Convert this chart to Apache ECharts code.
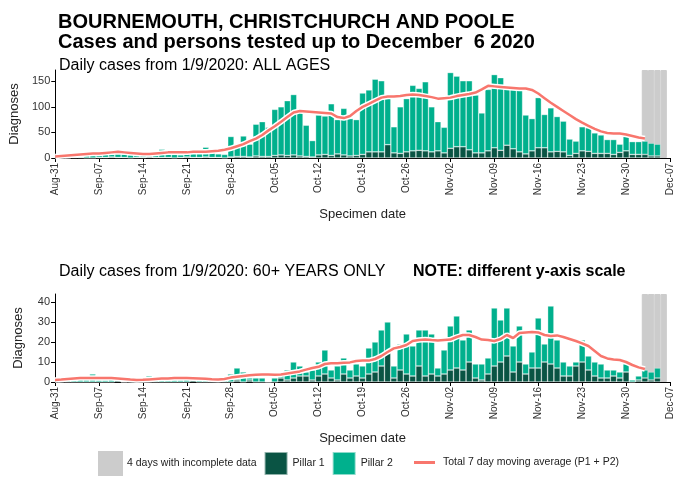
<!DOCTYPE html>
<html>
<head>
<meta charset="utf-8" />
<title>BCP cases</title>
<script src="https://cdn.jsdelivr.net/npm/echarts@6/dist/echarts.min.js"></script>
<style>
  body { margin: 0; background: #fff; }
  #chart { width: 675px; height: 485px; }
</style>
</head>
<body>
<div id="chart"></div>
<script>
// specimen dates, Aug-31 .. Dec-07
var days = ['Aug-31',
  'Sep-01','Sep-02','Sep-03','Sep-04','Sep-05','Sep-06','Sep-07','Sep-08','Sep-09','Sep-10',
  'Sep-11','Sep-12','Sep-13','Sep-14','Sep-15','Sep-16','Sep-17','Sep-18','Sep-19','Sep-20',
  'Sep-21','Sep-22','Sep-23','Sep-24','Sep-25','Sep-26','Sep-27','Sep-28','Sep-29','Sep-30',
  'Oct-01','Oct-02','Oct-03','Oct-04','Oct-05','Oct-06','Oct-07','Oct-08','Oct-09','Oct-10',
  'Oct-11','Oct-12','Oct-13','Oct-14','Oct-15','Oct-16','Oct-17','Oct-18','Oct-19','Oct-20',
  'Oct-21','Oct-22','Oct-23','Oct-24','Oct-25','Oct-26','Oct-27','Oct-28','Oct-29','Oct-30','Oct-31',
  'Nov-01','Nov-02','Nov-03','Nov-04','Nov-05','Nov-06','Nov-07','Nov-08','Nov-09','Nov-10',
  'Nov-11','Nov-12','Nov-13','Nov-14','Nov-15','Nov-16','Nov-17','Nov-18','Nov-19','Nov-20',
  'Nov-21','Nov-22','Nov-23','Nov-24','Nov-25','Nov-26','Nov-27','Nov-28','Nov-29','Nov-30',
  'Dec-01','Dec-02','Dec-03','Dec-04','Dec-05','Dec-06','Dec-07'];
var incompleteDays = ['Dec-03', 'Dec-04', 'Dec-05', 'Dec-06'];

// all ages, Sep-01 .. Dec-06
var allP1 = [1,0,1,1,0,0,1,1,2,1,1,0,1,1,2,1,1,1,0,1,2,1,1,2,1,1,0,
  2,3,3,2,4,3,3,5,6,5,6,4,3,2,6,7,5,8,6,4,5,
  7,12,12,12,26,10,9,12,14,15,14,12,14,10,
  19,22,22,16,10,10,14,20,15,25,18,12,8,14,20,20,12,13,12,5,9,14,13,9,9,9,7,11,14,7,7,7,4,4,null];
var allP2 = [2,4,3,5,5,7,5,7,5,8,7,6,4,6,6,8,16,15,7,5,6,8,9,19,10,7,7,
  40,19,40,25,62,68,57,90,94,107,118,86,61,32,78,75,101,67,91,73,70,
  120,121,142,139,92,51,91,104,128,121,135,88,57,50,
  148,138,129,135,113,78,120,143,142,111,118,121,76,63,98,65,86,68,60,32,24,47,46,40,36,27,29,16,28,25,25,26,25,23,null];
// 7 day moving average, Aug-31 .. Dec-03
var allAvg = [3,4,5,6,7,8,9,9,10,11,12,11,10,9,8,8,9,10,11,11,11,11,12,
  12,12,13,14,16,19,23,27,33,38,45,54,62,71,80,89,92,91,90,89,88,87,80,78,82,
  92,100,106,112,118,120,120,121,123,124,123,121,119,116,117,118,121,123,125,128,
  134,141,140,139,138,137,136,136,133,126,117,108,100,92,84,76,69,63,57,52,49,48,48,46,43,40,38];

// 60+ years, Sep-01 .. Dec-06
var oldP1 = [0,0,0,0,0,0,0,0,0,1,0,0,0,0,0,0,0,0,0,0,0,1,0,0,0,0,0,
  0,1,0,1,0,0,0,0,2,1,2,3,3,1,3,4,2,1,4,2,3,2,4,5,8,15,2,6,4,3,8,3,4,3,4,
  6,7,6,10,2,1,4,8,10,13,5,10,4,7,7,10,9,7,3,3,8,10,6,3,2,2,3,2,5,0,1,2,1,2];
var oldP2 = [1,1,2,3,2,4,1,1,2,0,0,1,1,2,3,1,1,2,1,1,2,1,1,2,1,1,1,
  4,6,5,1,2,2,0,2,3,5,8,5,2,5,7,12,4,7,8,4,6,6,13,15,18,15,6,13,20,15,18,23,20,4,12,
  22,26,15,16,7,8,8,29,21,24,13,18,5,8,25,9,29,14,7,5,2,11,7,7,7,4,3,3,4,1,2,4,4,5];
var oldAvg = [1,1.2,1.5,1.8,2,2,2,2,2,2,1.8,1.5,1.2,1,1.1,1.3,1.5,1.7,1.8,2,2,2,1.9,
  1.8,1.6,1.4,1.3,1.5,2.2,2.6,3.0,3.4,3.6,3.8,3.7,3.6,3.8,4.3,4.8,5.3,6.2,7.0,7.6,
  9.0,9.4,9.4,9.6,9.8,10.5,10.7,10.7,11.5,13.0,15,16.8,17.5,18.5,20.5,21,21.3,21,20.8,21,
  21.2,22.5,23.5,23.5,22.5,21.2,21,20.5,21.5,23.5,22,24.5,24.8,25,24.8,23.5,23,23.3,22.5,21.5,
  20.5,19.3,18,15.5,13,11.8,11.3,11,10,8.5,7.3,6.5];

var topMax = 172, bottomMax = 44;
var C_P1 = '#0a5444', C_P2 = '#00b08d', C_AVG = '#f8766d', C_GREY = '#cccccc';
var FONT = 'Liberation Sans, Arial, sans-serif';
var AVG_NAME = 'Total 7 day moving average (P1 + P2)';
var GREY_NAME = '4 days with incomplete data';

function padBars(arr) {
  var out = [null].concat(arr);
  while (out.length < days.length) out.push(null);
  return out;
}
function padLine(arr) {
  var out = arr.slice();
  while (out.length < days.length) out.push(null);
  return out;
}
function greyBars(max) {
  return days.map(function (d) { return incompleteDays.indexOf(d) >= 0 ? max : null; });
}

function xAxisFor(idx) {
  return {
    type: 'category', gridIndex: idx, data: days, boundaryGap: false,
    name: 'Specimen date', nameLocation: 'middle', nameGap: 50,
    nameTextStyle: { fontSize: 13, color: '#222', fontFamily: FONT },
    axisLine: { lineStyle: { color: '#000', width: 1 } },
    axisTick: { interval: 6, length: 4, lineStyle: { color: '#000' } },
    axisLabel: { interval: 6, rotate: 90, fontSize: 10, color: '#333', margin: 5, fontFamily: FONT },
    splitLine: { show: false }
  };
}
function yAxisFor(idx, max, step) {
  return {
    type: 'value', gridIndex: idx, min: 0, max: max, interval: step,
    name: 'Diagnoses', nameLocation: 'middle', nameGap: 30,
    nameTextStyle: { fontSize: 13, color: '#222', fontFamily: FONT },
    axisLine: { show: true, lineStyle: { color: '#000', width: 1 } },
    axisTick: { show: true, length: 4, lineStyle: { color: '#000' } },
    axisLabel: { fontSize: 11, color: '#333', margin: 5, showMaxLabel: false, fontFamily: FONT },
    splitLine: { show: false }
  };
}
function barSeries(name, idx, data, color, stack, edge) {
  return {
    name: name, type: 'bar', xAxisIndex: idx, yAxisIndex: idx, stack: stack + idx,
    data: data, barCategoryGap: '0%', barGap: '-100%',
    itemStyle: edge
      ? { color: color, borderColor: 'rgba(255,255,255,0.55)', borderWidth: 0.6 }
      : { color: color, borderColor: color, borderWidth: 1 },
    emphasis: { disabled: true }
  };
}
function avgSeries(idx, data) {
  return [{
    name: 'halo', type: 'line', xAxisIndex: idx, yAxisIndex: idx, data: data,
    symbol: 'none', lineStyle: { color: '#fff', width: 5.5 }, silent: true, z: 3
  }, {
    name: AVG_NAME, type: 'line', xAxisIndex: idx, yAxisIndex: idx,
    data: data, symbol: 'none', lineStyle: { color: C_AVG, width: 2.5 }, itemStyle: { color: C_AVG }, z: 4
  }];
}

var chart = echarts.init(document.getElementById('chart'));

chart.setOption({
  animation: false,
  textStyle: { fontFamily: FONT },
  title: [
    { text: 'BOURNEMOUTH, CHRISTCHURCH AND POOLE', left: 53, top: 7,
      textStyle: { fontSize: 20, fontWeight: 'bold', color: '#000', fontFamily: FONT } },
    { text: 'Cases and persons tested up to December  6 2020', left: 53, top: 27,
      textStyle: { fontSize: 20, fontWeight: 'bold', color: '#000', fontFamily: FONT } },
    { text: 'Daily cases from 1/9/2020: ALL AGES', left: 54, top: 53,
      textStyle: { fontSize: 16, fontWeight: 'normal', color: '#000', fontFamily: FONT } },
    { text: 'Daily cases from 1/9/2020: 60+ YEARS ONLY', left: 54, top: 259,
      textStyle: { fontSize: 16, fontWeight: 'normal', color: '#000', fontFamily: FONT } },
    { text: 'NOTE: different y-axis scale', left: 408, top: 259,
      textStyle: { fontSize: 16, fontWeight: 'bold', color: '#000', fontFamily: FONT } }
  ],
  legend: [{
    data: [GREY_NAME, 'Pillar 1', 'Pillar 2'],
    left: 98, top: 451, padding: 0, itemWidth: 23, itemHeight: 23, itemGap: 7,
    icon: 'rect', selectedMode: false,
    textStyle: { fontSize: 10.5, color: '#222', fontFamily: FONT }
  }, {
    data: [{ name: AVG_NAME, icon: 'rect' }],
    left: 414, top: 457, padding: 0, itemWidth: 21, itemHeight: 3, selectedMode: false,
    textStyle: { fontSize: 10.5, color: '#222', fontFamily: FONT, padding: [0, 0, 0, 3] }
  }],
  grid: [
    { left: 55, right: 5, top: 70, height: 88 },
    { left: 55, right: 5, top: 294, height: 88 }
  ],
  xAxis: [xAxisFor(0), xAxisFor(1)],
  yAxis: [yAxisFor(0, topMax, 50), yAxisFor(1, bottomMax, 10)],
  series: [
    barSeries(GREY_NAME, 0, greyBars(topMax), C_GREY, 'grey', false),
    barSeries('Pillar 1', 0, padBars(allP1), C_P1, 'cases', true),
    barSeries('Pillar 2', 0, padBars(allP2), C_P2, 'cases', true),
    barSeries(GREY_NAME, 1, greyBars(bottomMax), C_GREY, 'grey', false),
    barSeries('Pillar 1', 1, padBars(oldP1), C_P1, 'cases', true),
    barSeries('Pillar 2', 1, padBars(oldP2), C_P2, 'cases', true)
  ].concat(avgSeries(0, padLine(allAvg))).concat(avgSeries(1, padLine(oldAvg)))
});
</script>
</body>
</html>
